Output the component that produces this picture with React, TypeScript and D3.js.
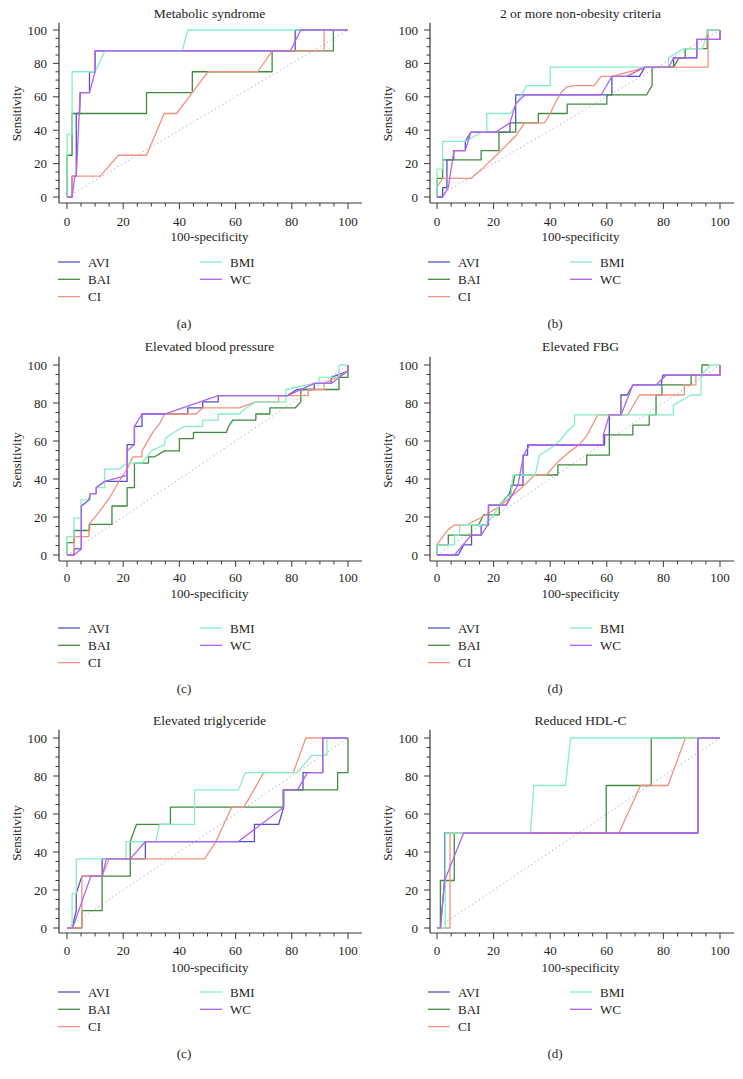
import React from "react";
import * as d3 from "d3";

type Pt = [number, number];

const seriesNames = ["AVI", "BAI", "CI", "BMI", "WC"];
const seriesColors = ["#5252c8", "#3f8d3f", "#f4927f", "#86efc4", "#b562ef"];
const panelTitles = [
  "Metabolic syndrome",
  "2 or more non-obesity criteria",
  "Elevated blood pressure",
  "Elevated FBG",
  "Elevated triglyceride",
  "Reduced HDL-C",
];
const panelCaptions = ["(a)", "(b)", "(c)", "(d)", "(c)", "(d)"];
const xTicks = [0, 20, 40, 60, 80, 100];
const yTicks = [0, 20, 40, 60, 80, 100];
const minorTicks = [0, 5, 10, 15, 20, 25, 30, 35, 40, 45, 50, 55, 60, 65, 70, 75, 80, 85, 90, 95, 100];
const xLabel = "100-specificity";
const yLabel = "Sensitivity";

// (a) Metabolic syndrome
const msAVI: Pt[] = [[0,0],[1.8,0],[1.8,12.5],[3.3,12.5],[3.3,50],[4.5,50],[4.7,62.5],[8,62.5],[8,75],[10,75],[10,87.5],[81.2,87.5],[81.2,100],[100,100]];
const msBAI: Pt[] = [[0,0],[0,25],[1.8,25],[1.8,50],[28.3,50],[28.3,62.5],[44.6,62.5],[44.6,75],[73,75],[73,87.5],[94.8,87.5],[94.8,100],[100,100]];
const msCI: Pt[] = [[0,0],[1.8,0],[1.8,12.5],[11.8,12.5],[18.3,25],[28.3,25],[34.6,50],[39,50],[44.6,62.5],[50.2,75],[67.9,75],[73,87.5],[91.5,87.5],[91.5,100],[100,100]];
const msBMI: Pt[] = [[0,0],[0,37.5],[1.8,37.5],[1.8,75],[10,75],[13.5,87.5],[41,87.5],[43,100],[100,100]];
const msWC: Pt[] = [[0,0],[1.8,0],[2.8,12.5],[3.3,12.5],[4.7,62.5],[8,62.5],[10,75],[10,87.5],[79.5,87.5],[83.2,100],[100,100]];

// (b) 2 or more non-obesity criteria
const nbAVI: Pt[] = [[0,0],[2,0],[2,5.6],[3.5,5.6],[3.5,22.2],[5.9,22.2],[5.9,27.8],[10,27.8],[10,33.3],[12,38.9],[25.8,38.9],[25.8,44.4],[27.8,44.4],[27.8,61.1],[61.8,61.1],[61.8,72.2],[71.5,72.2],[73.5,77.8],[83.6,77.8],[83.6,83.3],[91.8,83.3],[91.8,94.4],[100,94.4],[100,100]];
const nbBAI: Pt[] = [[0,0],[0,11.1],[2,11.1],[2,22.2],[15.6,22.2],[15.6,27.8],[21.9,27.8],[21.9,38.9],[27.8,38.9],[27.8,44.4],[35.8,44.4],[35.8,50],[46,50],[46,55.6],[60,55.6],[60,61.1],[74,61.1],[76,66.7],[76,77.8],[83.6,77.8],[85.5,83.3],[87.7,83.3],[87.7,88.9],[95.5,88.9],[95.5,100],[100,100]];
const nbCI: Pt[] = [[0,6],[2,11.1],[12,11.1],[16,17],[20,23.5],[24,30],[28,37],[31,44.4],[38,44.4],[40,50],[42,57],[44,63],[46,66],[48,66.7],[55.5,66.7],[58,72.2],[62,72.2],[68,75],[74,77.8],[95.8,77.8],[95.8,100],[100,100]];
const nbBMI: Pt[] = [[0,0],[0,16.7],[2,16.7],[2,33.3],[10,33.3],[15.8,38.9],[17.6,38.9],[17.6,50],[26,50],[31.7,66.7],[40,66.7],[40,77.8],[81.8,77.8],[81.8,83.3],[87.3,88.9],[93.8,88.9],[95.8,100],[100,100]];
const nbWC: Pt[] = [[0,0],[2,0],[4,5.6],[6,27.8],[10,27.8],[12,38.9],[20.8,38.9],[25.8,44.4],[27.8,55.6],[31,61.1],[58,61.1],[61.8,72.2],[67,72.2],[73.5,77.8],[82,77.8],[83.6,83.3],[91.8,83.3],[91.8,94.4],[100,94.4],[100,100]];

// (c) Elevated blood pressure
const bpAVI: Pt[] = [[0,0],[2.5,0],[2.5,3.2],[5.1,3.2],[5.1,25.8],[7.8,29],[8.3,32.3],[10.4,32.3],[10.4,35.5],[13.4,38.7],[21.4,38.7],[21.4,58.1],[24,58.1],[24,67.7],[26.7,67.7],[26.7,74.2],[43,74.2],[43,77.4],[48.3,77.4],[48.3,80.6],[53.8,80.6],[53.8,83.9],[78.5,83.9],[81.8,87.1],[88,87.1],[88,90.3],[94,90.3],[94,93.5],[100,96.8],[100,100]];
const bpBAI: Pt[] = [[0,0],[0,6.5],[2.5,6.5],[2.5,12.9],[8,12.9],[8,16.1],[16,16.1],[16,25.8],[21.4,25.8],[21.4,35.5],[24,35.5],[24,48.4],[29,48.4],[29,51.6],[31,51.6],[34.7,54.8],[40,54.8],[40,61.3],[45,61.3],[45,64.5],[56.7,64.5],[57.5,67.7],[59,71],[67.2,71],[67.2,74.2],[72.2,74.2],[72.2,77.4],[81.2,77.4],[83.2,80.6],[83.2,87.1],[96.8,87.1],[96.8,93.5],[100,93.5],[100,100]];
const bpCI: Pt[] = [[0,0],[2.5,0],[2.5,9.7],[7.8,9.7],[7.8,16.1],[11.6,23],[15.1,30],[18.5,38.7],[21.4,45.2],[23.4,51.6],[26.7,51.6],[26.7,54.8],[30.5,64.5],[32.9,69],[34.7,74.2],[45.9,74.2],[48.3,77.4],[61.3,77.4],[67.2,80.6],[75.3,80.6],[75.3,83.9],[85.9,83.9],[85.9,87.1],[91.5,87.1],[91.5,90.3],[96,93.5],[100,96.8],[100,100]];
const bpBMI: Pt[] = [[0,0],[0,9.7],[2.5,9.7],[2.5,19.4],[5,19.4],[5,29],[8.3,29],[8.3,32.3],[10.4,32.3],[10.4,35.5],[13.4,35.5],[13.4,45.2],[18.5,45.2],[21.4,48.4],[26.7,48.4],[30,54.8],[34.7,58.1],[35,61.3],[38,64.5],[41.8,67.7],[48.3,67.7],[48.3,71],[53.8,71],[53.8,74.2],[61.3,74.2],[63.7,77.4],[67.2,80.6],[77.9,80.6],[77.9,87.1],[88,90.3],[89.7,90.3],[89.7,93.5],[96.8,93.5],[96.8,100],[100,100]];
const bpWC: Pt[] = [[0,0],[2.5,0],[5.1,3.2],[5.1,25.8],[7.8,29],[8.3,32.3],[10.4,32.3],[10.4,35.5],[13.4,38.7],[21.4,41.9],[21.4,54.8],[24,58.1],[24,67.7],[26.7,74.2],[34.7,74.2],[53.8,83.9],[78.5,83.9],[88,90.3],[94,90.3],[100,96.8],[100,100]];

// (d) Elevated FBG
const fbAVI: Pt[] = [[0,0],[7.5,0],[9.4,5.3],[12.2,5.3],[12.2,10.5],[15.6,10.5],[15.6,15.8],[18.2,15.8],[18.2,26.3],[24.5,26.3],[26.2,31.6],[26.2,36.8],[30.4,36.8],[30.4,52.6],[32,52.6],[32,57.9],[59.2,57.9],[59.2,63.2],[60.9,63.2],[60.9,73.7],[65,73.7],[65,84.2],[67.2,84.2],[69.2,89.5],[79.2,89.5],[79.8,94.7],[100,94.7],[100,100]];
const fbBAI: Pt[] = [[0,0],[0,5.3],[4,5.3],[4,10.5],[12.2,10.5],[12.2,15.8],[14.7,15.8],[16.4,21.1],[22,21.1],[22,26.3],[25.3,31.6],[26.8,36.8],[27.5,42.1],[42.7,42.1],[42.7,47.4],[52.9,47.4],[52.9,52.6],[60.9,52.6],[60.9,63.2],[69.2,63.2],[69.2,68.4],[75,68.4],[75,73.7],[77.4,73.7],[77.4,84.2],[79.5,84.2],[79.5,89.5],[89.8,89.5],[89.8,94.7],[93.6,94.7],[93.6,100],[96.2,100]];
const fbCI: Pt[] = [[0,5.3],[2,9.5],[4,13.5],[6.2,15.8],[10.4,15.8],[16,20],[22,25.5],[30.4,36],[34.5,42.1],[38.6,42.1],[42.7,49],[46.5,54],[50.4,58.2],[53,63],[56.8,73.7],[67.4,73.7],[71.5,84.2],[87.4,84.2],[87.4,89.5],[91.5,89.5],[91.5,94.7],[100,94.7],[100,100]];
const fbBMI: Pt[] = [[0,0],[0,5.3],[6.2,5.3],[6.2,10.5],[8,10.5],[8,15.8],[17.5,15.8],[23.9,30],[26.2,31.6],[26.8,42.1],[34.7,42.1],[36.2,52.6],[40,56],[43.3,60],[46,65],[48.6,68.4],[48.6,73.7],[83.5,73.7],[83.5,78.9],[89.8,84.2],[93.3,84.2],[93.3,94.7],[96.8,100],[100,100]];
const fbWC: Pt[] = [[0,0],[6.2,0],[12.1,10.5],[15.6,10.5],[18,15.8],[18.2,26.3],[24.5,26.3],[28.6,36.8],[30.6,52.6],[32.7,57.9],[58.8,57.9],[58.8,63.2],[60.9,73.7],[65,73.7],[69.2,89.5],[77.4,89.5],[81,94.7],[100,94.7],[100,100]];

// (e) Elevated triglyceride
const tgAVI: Pt[] = [[0,0],[1.8,0],[3.3,9.1],[3.3,18.2],[5.3,27.3],[12.5,27.3],[12.5,36.4],[27.9,36.4],[27.9,45.5],[66.7,45.5],[66.7,54.5],[75.3,54.5],[77.1,63.6],[77.1,72.7],[84,72.7],[84,81.8],[91,81.8],[91,100],[100,100]];
const tgBAI: Pt[] = [[0,0],[5.3,0],[5.3,9.1],[12.5,9.1],[12.5,27.3],[22.5,27.3],[22.5,45.5],[24.7,54.5],[36.8,54.5],[36.8,63.6],[76.9,63.6],[76.9,72.7],[96.3,72.7],[96.3,81.8],[100,81.8],[100,100]];
const tgCI: Pt[] = [[0,0],[5.3,0],[5.3,27.3],[12.5,27.3],[15,36.4],[49,36.4],[53,45.5],[58.6,63.6],[63,63.6],[70,81.8],[80.5,81.8],[85,100],[91,100]];
const tgBMI: Pt[] = [[0,0],[1.8,0],[1.8,18.2],[3.3,18.2],[3.3,36.4],[21,36.4],[21,45.5],[31.5,45.5],[33,54.5],[45.4,54.5],[45.4,72.7],[61,72.7],[63.5,81.8],[81.8,81.8],[87.2,90.9],[92.5,90.9],[92.5,100],[100,100]];
const tgWC: Pt[] = [[0,0],[2,0],[8.5,27.3],[12.5,27.3],[14,36.4],[22.5,36.4],[27.9,45.5],[61,45.5],[77.1,63.6],[77.1,72.7],[82,72.7],[85.6,81.8],[91,81.8],[91,100],[100,100]];

// (f) Reduced HDL-C
const hdAVI: Pt[] = [[0,0],[1.2,0],[2.7,25],[2.7,50],[92.2,50],[92.2,100],[100,100]];
const hdBAI: Pt[] = [[0,0],[1.2,0],[1.2,25],[6.1,25],[6.1,50],[59.8,50],[59.8,75],[75.7,75],[75.7,100],[100,100]];
const hdCI: Pt[] = [[0,0],[4.6,0],[4.6,50],[64.3,50],[71.9,75],[81.6,75],[87.8,100],[100,100]];
const hdBMI: Pt[] = [[0,0],[2.9,0],[2.9,50],[33,50],[34.2,75],[45.4,75],[47.2,100],[100,100]];
const hdWC: Pt[] = [[0,0],[1.2,0],[2.7,25],[9.4,50],[92.2,50],[92.2,100],[100,100]];

const panelData: Pt[][][] = [
  [msAVI, msBAI, msCI, msBMI, msWC],
  [nbAVI, nbBAI, nbCI, nbBMI, nbWC],
  [bpAVI, bpBAI, bpCI, bpBMI, bpWC],
  [fbAVI, fbBAI, fbCI, fbBMI, fbWC],
  [tgAVI, tgBAI, tgCI, tgBMI, tgWC],
  [hdAVI, hdBAI, hdCI, hdBMI, hdWC],
];

// layout (pixels)
const cols = [
  { x0: 67, x1: 348, axisX: 59, cap: 184 },
  { x0: 437, x1: 720, axisX: 430, cap: 555 },
];
const rows = [
  { title: 13, y100: 30, y0: 197, axisY: 203, tick: 221, xlab: 236, legend: 262, caption: 323 },
  { title: 346, y100: 365, y0: 555, axisY: 561, tick: 577, xlab: 593, legend: 628, caption: 688 },
  { title: 720, y100: 738, y0: 928, axisY: 933, tick: 950, xlab: 967, legend: 992, caption: 1053 },
];

const FONT = "'Liberation Serif', 'Times New Roman', serif";
const TXT = "#1e1e1e";
const AX = "#3a3a3a";
const FS = 13;

function Panel({ idx }: { idx: number }) {
  const c = cols[idx % 2];
  const r = rows[Math.floor(idx / 2)];
  const x = d3.scaleLinear().domain([0, 100]).range([c.x0, c.x1]);
  const y = d3.scaleLinear().domain([0, 100]).range([r.y0, r.y100]);
  const line = d3
    .line<Pt>()
    .x((d) => x(d[0]))
    .y((d) => y(d[1]));
  const yTop = y(104.3);
  const xRight = x(105);
  const plotMidY = (r.y0 + r.y100) / 2;
  return (
    <g fontFamily={FONT} fill={TXT}>
      <text x={(c.x0 + c.x1) / 2 + 2} y={r.title} fontSize={13.5} textAnchor="middle" dominantBaseline="central">
        {panelTitles[idx]}
      </text>
      <line x1={x(0)} y1={y(0)} x2={x(100)} y2={y(100)} stroke="#a99fc4" strokeWidth={1} strokeDasharray="1.2,3" />
      {panelData[idx].map((s, i) => (
        <path key={i} d={line(s) || ""} fill="none" stroke={seriesColors[i]} strokeWidth={1.3} strokeLinejoin="round" />
      ))}
      <line x1={c.axisX} y1={r.axisY} x2={c.axisX} y2={yTop} stroke={AX} strokeWidth={1.2} />
      {minorTicks.map((t) => (
        <line key={"ym" + t} x1={c.axisX} x2={c.axisX - (t % 20 === 0 ? 6 : 3.5)} y1={y(t)} y2={y(t)} stroke={AX} strokeWidth={1} />
      ))}
      {yTicks.map((t) => (
        <text key={"yl" + t} x={c.axisX - 12} y={y(t)} fontSize={FS} textAnchor="end" dominantBaseline="central">
          {t}
        </text>
      ))}
      <text
        transform={`translate(${c.axisX - 43},${plotMidY}) rotate(-90)`}
        fontSize={FS}
        textAnchor="middle"
        dominantBaseline="central"
      >
        {yLabel}
      </text>
      <line x1={c.axisX} y1={r.axisY} x2={xRight} y2={r.axisY} stroke={AX} strokeWidth={1.2} />
      {minorTicks.map((t) => (
        <line key={"xm" + t} x1={x(t)} x2={x(t)} y1={r.axisY} y2={r.axisY + (t % 20 === 0 ? 6 : 3.5)} stroke={AX} strokeWidth={1} />
      ))}
      {xTicks.map((t) => (
        <text key={"xl" + t} x={x(t)} y={r.tick} fontSize={FS} textAnchor="middle" dominantBaseline="central">
          {t}
        </text>
      ))}
      <text x={(c.x0 + c.x1) / 2 + 2} y={r.xlab} fontSize={FS} textAnchor="middle" dominantBaseline="central">
        {xLabel}
      </text>
      {seriesNames.map((n, i) => {
        const colI = i < 3 ? 0 : 1;
        const rowI = i < 3 ? i : i - 3;
        const lx = c.x0 - 9 + colI * 142;
        const ly = r.legend + rowI * 17.3;
        return (
          <g key={n}>
            <line x1={lx} x2={lx + 22} y1={ly} y2={ly} stroke={seriesColors[i]} strokeWidth={1.3} />
            <text x={lx + 30} y={ly} fontSize={FS} dominantBaseline="central">
              {n}
            </text>
          </g>
        );
      })}
      <text x={c.cap} y={r.caption} fontSize={FS} textAnchor="middle" dominantBaseline="central">
        {panelCaptions[idx]}
      </text>
    </g>
  );
}

export default function App() {
  return (
    <svg
      width={743}
      height={1079}
      viewBox="0 0 743 1079"
      style={{ position: "absolute", left: 0, top: 0, display: "block", background: "#fff" }}
    >
      <rect x={0} y={0} width={743} height={1079} fill="#fff" />
      {panelTitles.map((_, i) => (
        <Panel key={i} idx={i} />
      ))}
    </svg>
  );
}
